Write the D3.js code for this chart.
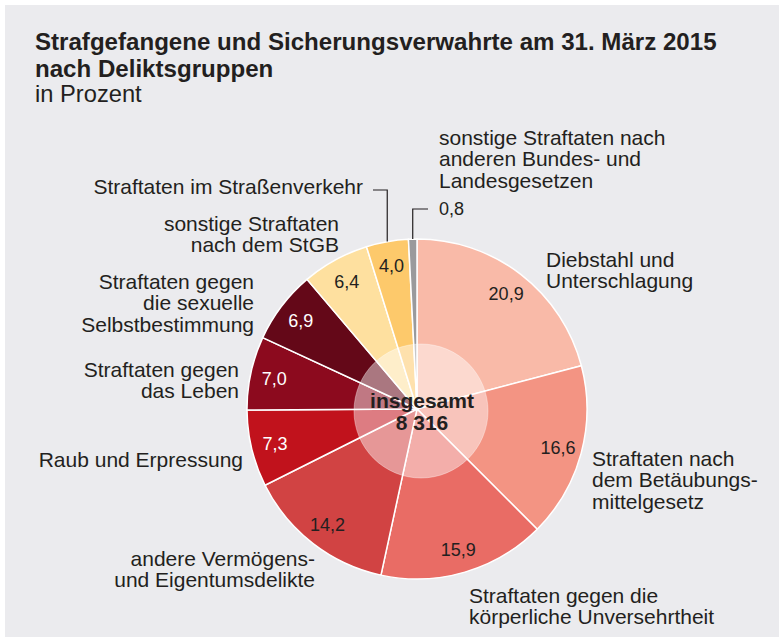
<!DOCTYPE html>
<html>
<head>
<meta charset="utf-8">
<script src="https://cdn.jsdelivr.net/npm/d3@7"></script>
<style>
  body { margin: 0; background: #fff; }
  text { font-family: "Liberation Sans", Arial, Helvetica, sans-serif; fill: #231f20; }
</style>
</head>
<body>
<svg id="chart" width="779" height="640"></svg>
<script>
// data, clockwise from 12 o'clock
const categories = [
    ["Diebstahl und", "Unterschlagung"],
    ["Straftaten nach", "dem Betäubungs-", "mittelgesetz"],
    ["Straftaten gegen die", "körperliche Unversehrtheit"],
    ["andere Vermögens-", "und Eigentumsdelikte"],
    ["Raub und Erpressung"],
    ["Straftaten gegen", "das Leben"],
    ["Straftaten gegen", "die sexuelle", "Selbstbestimmung"],
    ["sonstige Straftaten", "nach dem StGB"],
    ["Straftaten im Straßenverkehr"],
    ["sonstige Straftaten nach", "anderen Bundes- und", "Landesgesetzen"]
]
const values = [20.9, 16.6, 15.9, 14.2, 7.3, 7.0, 6.9, 6.4, 4.0, 0.8]
const colors = ["#f9baa8", "#f39483", "#e96c65", "#d14343", "#c1121c",
                "#8c0a1e", "#640818", "#fee09f", "#fdc96b", "#9a9a9c"]
const darkSlices = [4, 5, 6]   // white value text
const total = 8316
const titleLines = ["Strafgefangene und Sicherungsverwahrte am 31. März 2015", "nach Deliktsgruppen"]
const subtitle = "in Prozent"

// where each category label sits (x, first baseline, anchor)
const labelPos = [
    {x: 546, y: 267, anchor: "start"},
    {x: 592, y: 466, anchor: "start"},
    {x: 469, y: 603, anchor: "start"},
    {x: 315, y: 566, anchor: "end"},
    {x: 243, y: 467, anchor: "end"},
    {x: 239, y: 377, anchor: "end"},
    {x: 254, y: 289, anchor: "end"},
    {x: 339, y: 231, anchor: "end"},
    {x: 363, y: 194, anchor: "end"},
    {x: 439, y: 145, anchor: "start"}
]
const lineHeight = 21.3

const de = d3.formatLocale({decimal: ",", thousands: " ", grouping: [3], currency: ["", " €"]})
const fmtVal = de.format(".1f")
const fmtTotal = de.format(",d")

const svg = d3.select("#chart")
const cx = 417, cy = 409, radius = 170

svg.append("rect")
    .attr("x", 5).attr("y", 5)
    .attr("width", 774).attr("height", 632)
    .attr("fill", "#ebebee")

// title
svg.append("g").selectAll("text")
    .data(titleLines)
    .enter().append("text")
    .attr("x", 35)
    .attr("y", (d, i) => 50 + i * 27)
    .style("font-size", "24.1px")
    .style("font-weight", "bold")
    .text(d => d)

svg.append("text")
    .attr("x", 35).attr("y", 102)
    .style("font-size", "23.7px")
    .text(subtitle)

const pie = d3.pie().sort(null).value(d => d)
const arcs = pie(values)
const arc = d3.arc().innerRadius(0).outerRadius(radius)
const labelArc = d3.arc().innerRadius(146).outerRadius(146)

const chart = svg.append("g")
    .attr("transform", `translate(${cx}, ${cy})`)

chart.selectAll("path")
    .data(arcs)
    .enter().append("path")
    .attr("d", arc)
    .attr("fill", (d, i) => colors[i])
    .attr("stroke", "#fff")
    .attr("stroke-width", 1.5)

// values inside the slices (the tiny one gets an outside label)
chart.selectAll("text.val")
    .data(arcs.filter(d => d.value >= 1))
    .enter().append("text")
    .attr("class", "val")
    .attr("transform", d => `translate(${labelArc.centroid(d)})`)
    .attr("text-anchor", "middle")
    .attr("dy", "0.36em")
    .style("font-size", "18px")
    .style("fill", d => darkSlices.includes(d.index) ? "#fff" : "#231f20")
    .text(d => fmtVal(d.value))

// semi transparent disc in the middle
chart.append("circle")
    .attr("cx", 4).attr("cy", 2)
    .attr("r", 67)
    .attr("fill", "#fff")
    .attr("fill-opacity", 0.45)
    .attr("stroke", "#fff")
    .attr("stroke-opacity", 0.35)

chart.append("text")
    .attr("x", 5).attr("y", -1)
    .attr("text-anchor", "middle")
    .style("font-size", "21px")
    .style("font-weight", "bold")
    .text("insgesamt")

chart.append("text")
    .attr("x", 5).attr("y", 21)
    .attr("text-anchor", "middle")
    .style("font-size", "21px")
    .style("font-weight", "bold")
    .text(fmtTotal(total))

// category labels
const labels = svg.append("g")
categories.forEach((lines, i) => {
    const p = labelPos[i]
    const t = labels.append("text")
        .attr("text-anchor", p.anchor)
        .style("font-size", "21px")
    lines.forEach((line, j) => {
        t.append("tspan")
            .attr("x", p.x)
            .attr("y", p.y + j * lineHeight)
            .text(line)
    })
})

// leader lines for the two small slices at the top
const leaders = [
    {index: 8, y: 190, x2: 373},
    {index: 9, y: 209, x2: 428}
]
leaders.forEach(l => {
    const a = arcs[l.index]
    const mid = (a.startAngle + a.endAngle) / 2
    const x0 = cx + radius * Math.sin(mid)
    const y0 = cy - radius * Math.cos(mid)
    svg.append("path")
        .attr("d", `M${x0},${y0}V${l.y}H${l.x2}`)
        .attr("fill", "none")
        .attr("stroke", "#231f20")
        .attr("stroke-width", 1.2)
})

// outside value for the smallest slice
svg.append("text")
    .attr("x", 439).attr("y", 215)
    .style("font-size", "18px")
    .text(fmtVal(values[9]))
</script>
</body>
</html>
